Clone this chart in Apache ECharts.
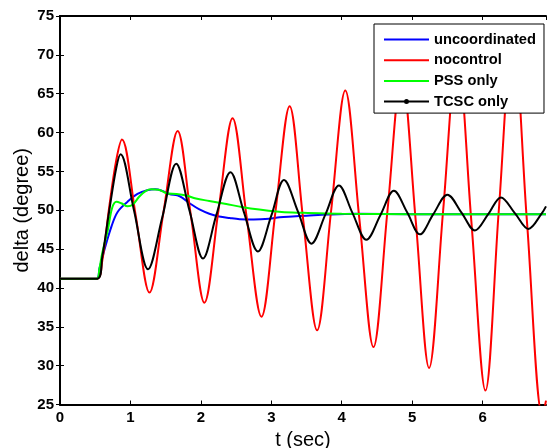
<!DOCTYPE html>
<html>
<head>
<meta charset="utf-8">
<script src="https://cdn.jsdelivr.net/npm/echarts@6/dist/echarts.min.js"></script>
<style>html,body{margin:0;padding:0;background:#fff}#c{width:547px;height:448px}</style>
</head>
<body>
<div id="c"></div>
<script>
// ---- data ----
const xTicks = [0, 1, 2, 3, 4, 5, 6];
const yTicks = [25, 30, 35, 40, 45, 50, 55, 60, 65, 70, 75];

const uncoordT = [0, 0.52, 0.56, 0.63, 0.73, 0.82, 0.96, 1.10, 1.25, 1.35, 1.45, 1.55, 1.70, 1.84, 1.98, 2.12, 2.26, 2.41, 2.55, 2.75, 2.97, 3.12, 3.30, 3.50, 3.80, 4.20, 5.00, 6.90];
const uncoordV = [41.2, 41.2, 42.5, 44.9, 47.9, 49.8, 51.1, 52.1, 52.6, 52.7, 52.5, 52.1, 51.8, 50.9, 50.1, 49.55, 49.2, 49.0, 48.85, 48.8, 48.9, 49.1, 49.2, 49.3, 49.45, 49.55, 49.5, 49.5];

const nocontrolT = [0, 0.52, 0.60, 0.70, 0.80, 0.88, 1.075, 1.27, 1.47, 1.67, 1.86, 2.05, 2.25, 2.45, 2.65, 2.86, 3.06, 3.26, 3.45, 3.65, 3.85, 4.05, 4.25, 4.45, 4.65, 4.85, 5.05, 5.24, 5.44, 5.64, 5.84, 6.04, 6.23, 6.43, 6.63, 6.85, 6.90];
const nocontrolV = [41.2, 41.2, 43.5, 50.5, 56.5, 59.1, 49.3, 39.4, 49.8, 60.2, 49.2, 38.1, 50.0, 61.85, 49.1, 36.3, 49.9, 63.4, 49.0, 34.55, 50.0, 65.4, 48.9, 32.4, 50.0, 67.6, 48.7, 29.7, 50.0, 70.3, 48.6, 26.8, 50.0, 73.0, 48.5, 23.5, 25.5];

const pssT = [0, 0.52, 0.56, 0.60, 0.68, 0.74, 0.80, 0.87, 0.96, 1.03, 1.13, 1.22, 1.30, 1.40, 1.51, 1.65, 1.79, 1.93, 2.12, 2.36, 2.60, 2.83, 3.07, 3.30, 3.52, 4.00, 5.00, 6.90];
const pssV = [41.2, 41.2, 42.5, 44.5, 47.5, 50.3, 51.1, 50.9, 50.5, 50.7, 51.8, 52.5, 52.7, 52.65, 52.2, 52.1, 51.9, 51.5, 51.2, 50.8, 50.4, 50.1, 49.85, 49.7, 49.65, 49.55, 49.5, 49.5];

const tcscT = [0, 0.53, 0.60, 0.70, 0.80, 0.86, 1.05, 1.25, 1.45, 1.65, 1.84, 2.03, 2.22, 2.42, 2.61, 2.81, 3.00, 3.18, 3.38, 3.57, 3.77, 3.96, 4.15, 4.35, 4.55, 4.74, 4.93, 5.11, 5.30, 5.50, 5.70, 5.89, 6.08, 6.26, 6.46, 6.65, 6.84, 6.90];
const tcscV = [41.2, 41.2, 44.0, 50.0, 55.5, 57.2, 50.0, 42.4, 49.0, 56.0, 49.9, 43.8, 49.4, 54.9, 49.8, 44.7, 49.3, 53.9, 49.8, 45.7, 49.5, 53.2, 49.7, 46.2, 49.4, 52.5, 49.7, 46.9, 49.5, 52.0, 49.7, 47.4, 49.5, 51.65, 49.6, 47.6, 49.6, 50.5];

const seriesNames = ['uncoordinated', 'nocontrol', 'PSS only', 'TCSC only'];
const seriesColors = ['#0000ff', '#ff0000', '#00ff00', '#000000'];
// --------------------------------------

const zip = (t, v) => t.map((x, i) => [x, v[i]]);
const FONT = "'Liberation Sans', Arial, sans-serif";

const chart = echarts.init(document.getElementById('c'), null, {renderer: 'canvas'});

const baseAxis = {
  axisLine: {show: true, lineStyle: {color: '#000', width: 2}},
  axisTick: {show: true, inside: true, length: 4, lineStyle: {color: '#000', width: 1}},
  splitLine: {show: false},
};

const xFmt = v => xTicks.includes(Math.round(v * 1000) / 1000) ? String(v) : '';
const yFmt = v => yTicks.includes(v) ? String(v) : '';

const LINE_ICON = 'path://M0,0H45V2H0Z';
const DOT_ICON = 'path://M0,2H45V4H0Z M20,3A2.5,2.5,0,1,1,25,3A2.5,2.5,0,1,1,20,3Z';

const option = {
  backgroundColor: '#fff',
  animation: false,
  grid: {left: 60, right: 1, top: 16, bottom: 43.5, containLabel: false, outerBoundsMode: 'none'},
  xAxis: [
    Object.assign({}, baseAxis, {
      type: 'value', position: 'bottom', min: 0, max: 6.9, interval: 1,
      name: 't (sec)', nameLocation: 'middle', nameGap: 26, nameMoveOverlap: false,
      nameTextStyle: {fontFamily: FONT, fontSize: 20, color: '#000'},
      axisLabel: {formatter: xFmt, fontFamily: FONT, fontSize: 15, fontWeight: 'bold', color: '#000', margin: 6, showMaxLabel: false},
    }),
    Object.assign({}, baseAxis, {
      type: 'value', position: 'top', min: 0, max: 6.9, interval: 1,
      axisLabel: {show: false},
    }),
  ],
  yAxis: [
    Object.assign({}, baseAxis, {
      type: 'value', position: 'left', min: 25, max: 75, interval: 5,
      name: 'delta (degree)', nameLocation: 'middle', nameGap: 28, nameRotate: 90, nameMoveOverlap: false,
      nameTextStyle: {fontFamily: FONT, fontSize: 20, color: '#000'},
      axisLabel: {formatter: yFmt, fontFamily: FONT, fontSize: 15, fontWeight: 'bold', color: '#000', margin: 6},
    }),
    Object.assign({}, baseAxis, {
      type: 'value', position: 'right', min: 25, max: 75, interval: 5,
      axisLabel: {show: false},
    }),
  ],
  legend: {
    show: true,
    orient: 'vertical',
    left: 374, top: 24,
    backgroundColor: '#fff',
    borderColor: '#000', borderWidth: 1,
    padding: [8, 8, 4, 10],
    itemWidth: 45, itemHeight: 5, itemGap: 5.7,
    symbolKeepAspect: true,
    textStyle: {fontFamily: FONT, fontSize: 14.7, fontWeight: 'bold', color: '#000'},
    data: seriesNames.map((n, i) => ({name: n, icon: i === 3 ? DOT_ICON : LINE_ICON})),
    z: 10,
  },
  series: [
    {data: zip(uncoordT, uncoordV)},
    {data: zip(nocontrolT, nocontrolV)},
    {data: zip(pssT, pssV)},
    {data: zip(tcscT, tcscV)},
  ].map((s, i) => ({
    name: seriesNames[i],
    type: 'line',
    xAxisIndex: 0, yAxisIndex: 0,
    data: s.data,
    smooth: 0.35,
    symbol: 'none',
    showSymbol: false,
    clip: true,
    color: seriesColors[i],
    lineStyle: {color: seriesColors[i], width: 2},
    itemStyle: {color: seriesColors[i]},
    z: 2 + (i === 3 ? 1 : 0),
  })),
};
chart.setOption(option);
</script>
</body>
</html>
